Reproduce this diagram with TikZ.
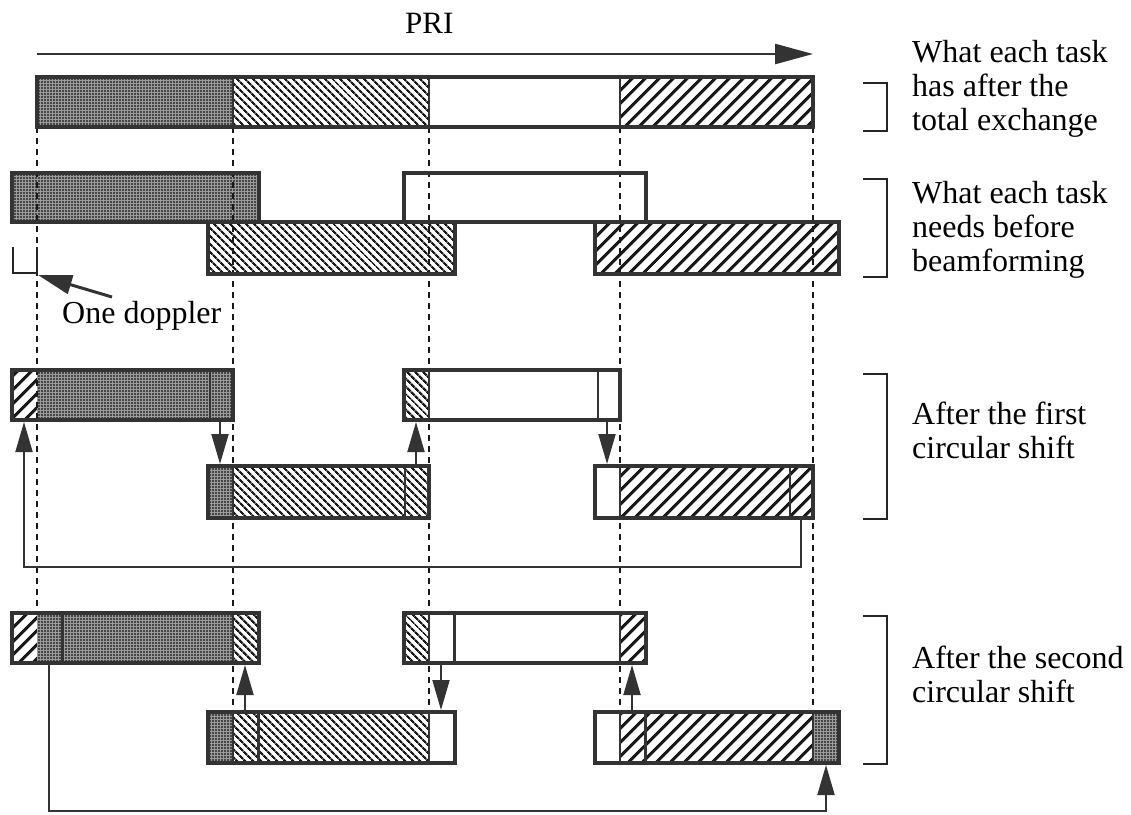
\documentclass[tikz,border=0pt]{standalone}
\usepackage{fontspec}
\setmainfont{Liberation Serif}
\usetikzlibrary{arrows.meta,patterns.meta,fit}

\begin{document}
\begin{tikzpicture}[x=1pt,y=-1pt,
  barframe/.style={draw=black!80, line width=4pt, inner sep=0pt},
  sepline/.style={draw=black!80, line width=2.4pt},
  dotsfill/.style={fill=black!38, postaction={pattern={Dots[distance=3pt,radius=1.05pt]}, pattern color=black!85}},
  nwfill/.style={pattern={Lines[angle=-45,distance=5.4pt,line width=2.3pt]}, pattern color=black!90},
  nefill/.style={pattern={Lines[angle=45,distance=10.5pt,line width=3.4pt]}, pattern color=black!90},
  whitefill/.style={fill=white},
  guide/.style={draw=black!90, line width=2.4pt, dash pattern=on 6pt off 5pt},
  conn/.style={draw=black!80, line width=2pt, -{Triangle[length=30pt,width=17pt]}},
  brace/.style={draw=black!85, line width=2.5pt},
  lbl/.style={font=\fontsize{32}{34}\selectfont, anchor=base west, inner sep=0pt},
]
\useasboundingbox (0,0) rectangle (1131,814);

% ---------- fills ----------
% total exchange
\path[dotsfill] (37,77) rectangle (233,127);
\path[nwfill]   (233,77) rectangle (429,127);
\path[nefill]   (620,77) rectangle (813,127);
% needs before beamforming
\path[nwfill]   (207.5,222) rectangle (454.5,274);
\path[nefill]   (594.5,222) rectangle (838.5,274);
\path[dotsfill] (11.5,173) rectangle (258.5,222);
\path[whitefill] (403.5,173) rectangle (645.5,222);
% first circular shift
\path[nefill]   (11.5,370) rectangle (37,420);
\path[dotsfill] (37,370) rectangle (233,420);
\path[nwfill]   (403.5,370) rectangle (429,420);
\path[dotsfill] (207.5,466) rectangle (233,518);
\path[nwfill]   (233,466) rectangle (429,518);
\path[nefill]   (620,466) rectangle (813,518);
% second circular shift
\path[nefill]   (11.5,613) rectangle (37,663);
\path[dotsfill] (37,613) rectangle (233,663);
\path[nwfill]   (233,613) rectangle (258.5,663);
\path[nwfill]   (403.5,613) rectangle (429,663);
\path[nefill]   (620,613) rectangle (645.5,663);
\path[dotsfill] (207.5,712) rectangle (233,763);
\path[nwfill]   (233,712) rectangle (429,763);
\path[nefill]   (620,712) rectangle (813,763);
\path[dotsfill] (813,712) rectangle (838.5,763);

% ---------- dotted column guides ----------
\coordinate (g0) at (37,127);  \coordinate (h0) at (37,613);
\coordinate (g1) at (233,127); \coordinate (h1) at (233,712);
\coordinate (g2) at (429,127); \coordinate (h2) at (429,712);
\coordinate (g3) at (620,127); \coordinate (h3) at (620,712);
\coordinate (g4) at (813,127); \coordinate (h4) at (813,712);
\foreach \i in {0,...,4} \draw[guide] (g\i) -- (h\i);

% ---------- bar outlines ----------
\node[barframe, fit={(37,77) (813,127)}] (T) {};
\draw[sepline] (233,77) -- (233,127) (429,77) -- (429,127) (620,77) -- (620,127);

\node[barframe, fit={(207.5,222) (454.5,274)}] (N3) {};
\node[barframe, fit={(594.5,222) (838.5,274)}] (N4) {};
\node[barframe, fit={(11.5,173) (258.5,222)}] (N1) {};
\node[barframe, fit={(403.5,173) (645.5,222)}] (N2) {};

\node[barframe, fit={(11.5,370) (233,420)}] (A) {};
\node[barframe, fit={(403.5,370) (620,420)}] (B) {};
\node[barframe, fit={(207.5,466) (429,518)}] (C) {};
\node[barframe, fit={(594.5,466) (813,518)}] (D) {};
\draw[sepline] (210,370) -- (210,420) (429,370) -- (429,420) (598,370) -- (598,420)
               (233,466) -- (233,518) (405,466) -- (405,518)
               (620,466) -- (620,518) (790,466) -- (790,518);

\node[barframe, fit={(11.5,613) (258.5,663)}] (E) {};
\node[barframe, fit={(403.5,613) (645.5,663)}] (F) {};
\node[barframe, fit={(207.5,712) (454.5,763)}] (G) {};
\node[barframe, fit={(594.5,712) (838.5,763)}] (H) {};
\draw[sepline] (62.5,613) -- (62.5,663) (233,613) -- (233,663)
               (429,613) -- (429,663) (454.5,613) -- (454.5,663) (620,613) -- (620,663)
               (233,712) -- (233,763) (258.5,712) -- (258.5,763) (429,712) -- (429,763)
               (620,712) -- (620,763) (645.5,712) -- (645.5,763) (813,712) -- (813,763);

% ---------- PRI axis ----------
\coordinate (pri0) at (37,54);
\coordinate (pri1) at (813,54);
\draw[conn, line width=2.5pt, -{Triangle[length=38pt,width=20pt]}] (pri0) -- (pri1);
\node[lbl, font=\fontsize{31}{34}\selectfont] (pri) at (405,33) {PRI};

% ---------- one doppler marker ----------
\draw[brace] (13,247) -- (13,273) -- (37,273) -- (37,247);
\coordinate (dtail) at (112,297);
\coordinate (dtip) at (38,275);
\draw[conn, line width=3pt, -{Triangle[length=34pt,width=19pt]}] (dtail) -- (dtip);
\node[lbl] (dop) at (62,323) {One doppler};

% ---------- exchange arrows, first shift ----------
\coordinate (k1) at (220,0);
\coordinate (k2) at (416,0);
\coordinate (k3) at (607,0);
\coordinate (k4) at (801,0);
\coordinate (k0) at (24,0);
\coordinate (loop3) at (0,567);
\draw[conn] (A.south -| k1) -- (C.north -| k1);
\draw[conn] (C.north -| k2) -- (B.south -| k2);
\draw[conn] (B.south -| k3) -- (D.north -| k3);
\draw[conn] (D.south -| k4) -- (k4 |- loop3) -- (k0 |- loop3) -- (A.south -| k0);

% ---------- exchange arrows, second shift ----------
\coordinate (m1) at (245,0);
\coordinate (m2) at (441,0);
\coordinate (m3) at (632,0);
\coordinate (m0) at (49,0);
\coordinate (m4) at (826,0);
\coordinate (loop4) at (0,811);
\draw[conn] (G.north -| m1) -- (E.south -| m1);
\draw[conn] (F.south -| m2) -- (G.north -| m2);
\draw[conn] (H.north -| m3) -- (F.south -| m3);
\draw[conn] (E.south -| m0) -- (m0 |- loop4) -- (m4 |- loop4) -- (H.south -| m4);

% ---------- row brackets and captions ----------
\draw[brace] (863,83) -- (887,83) -- (887,131) -- (863,131);
\draw[brace] (863,179) -- (887,179) -- (887,277) -- (863,277);
\draw[brace] (863,374) -- (887,374) -- (887,519) -- (863,519);
\draw[brace] (863,616) -- (887,616) -- (887,764) -- (863,764);

\node[lbl] (cap1) at (912,62)
  {\begin{tabular}[t]{@{}l@{}}What each task\\has after the\\total exchange\end{tabular}};
\node[lbl] (cap2) at (912,203)
  {\begin{tabular}[t]{@{}l@{}}What each task\\needs before\\beamforming\end{tabular}};
\node[lbl] (cap3) at (912,424)
  {\begin{tabular}[t]{@{}l@{}}After the first\\circular shift\end{tabular}};
\node[lbl] (cap4) at (912,668)
  {\begin{tabular}[t]{@{}l@{}}After the second\\circular shift\end{tabular}};
\end{tikzpicture}
\end{document}
